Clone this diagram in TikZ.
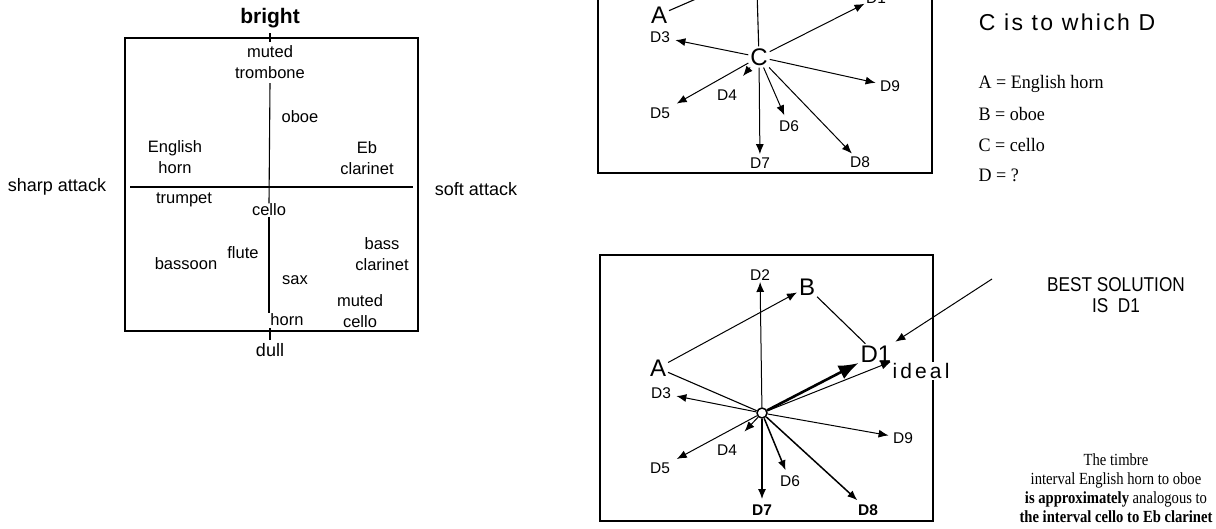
\documentclass[tikz,border=0pt]{standalone}
\usepackage{fontspec}
\setmainfont{Liberation Serif}
\setsansfont{Liberation Sans}
\usetikzlibrary{arrows.meta,calc}

\begin{document}
\begin{tikzpicture}[x=1pt, y=-1pt, line width=1.1pt,
    instr/.style={font=\sffamily\fontsize{16.5}{21}\selectfont, align=center, inner sep=0pt},
    axislbl/.style={font=\sffamily\fontsize{18}{19}\selectfont, inner sep=0pt},
    letter/.style={font=\sffamily\fontsize{24}{24}\selectfont, inner sep=1.5pt},
    dlbl/.style={font=\sffamily\fontsize{15.5}{16}\selectfont, inner sep=1pt},
    vec/.style={-{Latex[length=10pt,width=8pt]}, line width=1pt},
    bigvec/.style={-{Latex[length=20pt,width=15pt]}, line width=2.6pt},
    legend/.style={font=\rmfamily\fontsize{19}{19}\selectfont, anchor=west, inner sep=0pt},
    panel/.style={draw, line width=1.4pt}
]
    \useasboundingbox (0,0) rectangle (1216,528);
    \clip (0,0) rectangle (1216,528);

    % timbre space
    \node[font=\sffamily\bfseries\fontsize{21}{22}\selectfont] (bright) at (270,18) {bright};
    \draw[line width=1.3pt] (125,38) rectangle (418,331);
    \node[font=\sffamily\fontsize{18}{19}\selectfont] (dull) at (270,350) {dull};
    \node[axislbl] (sharp) at (57,187) {sharp attack};
    \node[axislbl] (soft) at (476,189) {soft attack};
    \node[instr] (mtrom) at (270,62) {muted\\trombone};
    \node[instr] (oboe) at (300,117) {oboe};
    \node[instr] (ehorn) at (175,157) {English\\horn};
    \node[instr] (ebclar) at (367,158) {Eb\\clarinet};
    \node[instr] (trumpet) at (184,200) {trumpet};
    \node[instr] (cello) at (269,210) {cello};
    \node[instr] (flute) at (243,253) {flute};
    \node[instr] (bassoon) at (186,264) {bassoon};
    \node[instr] (bclar) at (382,254) {bass\\clarinet};
    \node[instr] (sax) at (295,280) {sax};
    \node[instr] (mcello) at (360,311) {muted\\cello};
    \node[instr] (horn) at (287,320) {horn};

    \draw (130,187) -- (413,187);
    \draw (mtrom.south) ++(0,4) -- (cello.north);
    \draw (cello.south) -- (cello.south |- horn.north);
    \draw (270,33) -- (270,42);
    \draw (dull.north) -- (270,328);

    % upper panel
    \draw[panel] (598,-10) -- (598,173) -- (932,173) -- (932,-10);
    \node[letter] (a1) at (659,15) {A};
    \node[letter] (c1) at (759,57) {C};
    \coordinate (b1) at (712,-8);
    \coordinate (d21) at (757,-10);
    \node[dlbl] (d11) at (876,-2) {D1};
    \node[dlbl] (d31) at (660,37) {D3};
    \node[dlbl] (d41) at (727,95) {D4};
    \node[dlbl] (d51) at (660,113) {D5};
    \node[dlbl] (d61) at (789,126) {D6};
    \node[dlbl] (d71) at (760,163) {D7};
    \node[dlbl] (d81) at (860,162) {D8};
    \node[dlbl] (d91) at (890,86) {D9};
    \draw (a1) -- (b1);
    \draw (c1) -- (d21);
    \draw[vec] (c1) -- (d11);
    \draw[vec, shorten >=4pt] (c1) -- (d31);
    \draw[vec] (c1) -- ($(c1)!0.5!(d41)$);
    \draw[vec, shorten >=6pt] (c1) -- (d51);
    \draw[vec, shorten >=4pt] (c1) -- (d61);
    \draw[vec, shorten >=2pt] (c1) -- (d71);
    \draw[vec, shorten >=2pt] (c1) -- (d81);
    \draw[vec, shorten >=3pt] (c1) -- (d91);

    \node[letter, font=\sffamily\fontsize{23}{24}\selectfont\addfontfeature{LetterSpace=10}] (as) at (1000,-7) {as};
    \node[letter, font=\sffamily\fontsize{23}{24}\selectfont\addfontfeature{LetterSpace=10}] (question) at (1067,22) {C is to which D};
    \node[legend] (la) at (978,84) {\scalebox{0.95}[1]{A = English horn}};
    \node[legend] (lb) at (978,114) {\scalebox{0.95}[1]{B = oboe}};
    \node[legend] (lc) at (978,145) {\scalebox{0.95}[1]{C = cello}};
    \node[legend] (ld) at (978,175) {\scalebox{0.95}[1]{D = ?}};

    % lower panel
    \draw[panel] (600,255) rectangle (933,521);
    \node[circle, draw, line width=1.5pt, minimum size=10pt, inner sep=0pt] (c2) at (762,413) {};
    \node[letter] (a2) at (658,368) {A};
    \node[letter] (b2) at (807,287) {B};
    \node[letter] (d12) at (876,354) {D1};
    \node[font=\sffamily\fontsize{21}{22}\selectfont\addfontfeature{LetterSpace=15}, fill=white, inner sep=1pt] (ideal) at (921,371) {ideal};
    \node[dlbl] (d22) at (760,275) {D2};
    \node[dlbl] (d32) at (661,393) {D3};
    \node[dlbl] (d42) at (727,450) {D4};
    \node[dlbl] (d52) at (660,468) {D5};
    \node[dlbl] (d62) at (790,481) {D6};
    \node[dlbl, font=\sffamily\bfseries\fontsize{15.5}{16}\selectfont] (d72) at (762,510) {D7};
    \node[dlbl, font=\sffamily\bfseries\fontsize{15.5}{16}\selectfont] (d82) at (868,510) {D8};
    \node[dlbl] (d92) at (903,438) {D9};
    \draw[vec] (a2) -- (b2);
    \draw (b2) -- (d12);
    \draw (a2) -- (c2);
    \draw[bigvec] (c2) -- (d12);
    \draw[vec] (c2) -- (ideal.north west);
    \draw[vec] (c2) -- (d22);
    \draw[vec, shorten >=4pt] (c2) -- (d32);
    \draw[vec] (c2) -- ($(c2)!0.5!(d42)$);
    \draw[vec, shorten >=6pt] (c2) -- (d52);
    \draw[vec, line width=1.5pt, shorten >=4pt] (c2) -- (d62);
    \draw[vec, line width=1.5pt, shorten >=4pt] (c2) -- (d72);
    \draw[vec, line width=1.5pt, shorten >=4pt] (c2) -- (d82);
    \draw[vec, shorten >=3pt] (c2) -- (d92);

    \node[font=\sffamily\fontsize{20}{21}\selectfont, inner sep=0pt] (best) at (1116,298)
        {\scalebox{0.86}[1]{\begin{tabular}{@{}c@{}}BEST SOLUTION\\IS\ \ D1\end{tabular}}};
    \coordinate (lead) at (992,279);
    \draw[vec] (lead) -- ([shift={(2,-2)}]d12.north east);
    \node[font=\rmfamily\fontsize{17}{19}\selectfont, inner sep=0pt] (note) at (1116,490)
        {\scalebox{0.86}[1]{\begin{tabular}{@{}c@{}}The timbre\\interval English horn to oboe\\\textbf{is approximately} analogous to\\\textbf{the interval cello to Eb clarinet}\end{tabular}}};
\end{tikzpicture}
\end{document}
